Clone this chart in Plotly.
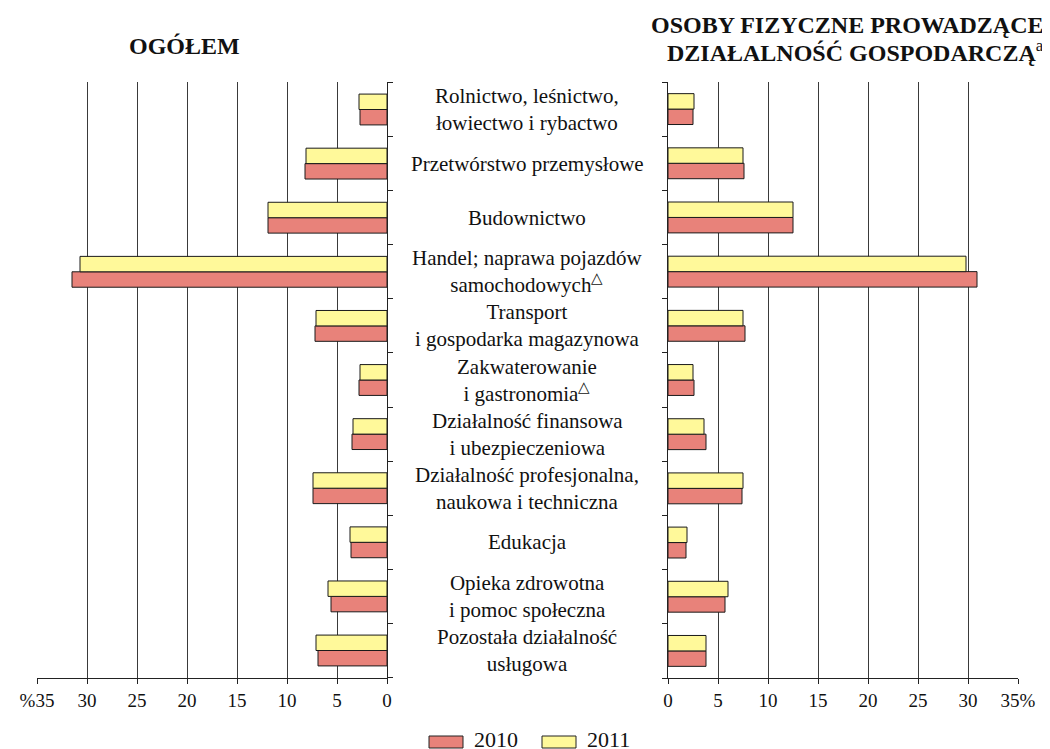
import plotly.graph_objects as go

categories = [
    "Rolnictwo, leśnictwo,<br>łowiectwo i rybactwo",
    "Przetwórstwo przemysłowe",
    "Budownictwo",
    "Handel; naprawa pojazdów<br>samochodowych<sup>△</sup>",
    "Transport<br>i gospodarka magazynowa",
    "Zakwaterowanie<br>i gastronomia<sup>△</sup>",
    "Działalność finansowa<br>i ubezpieczeniowa",
    "Działalność profesjonalna,<br>naukowa i techniczna",
    "Edukacja",
    "Opieka zdrowotna<br>i pomoc społeczna",
    "Pozostała działalność<br>usługowa",
]
keys = [f"c{i}" for i in range(len(categories))]

ogolem_2010 = [2.7, 8.2, 11.9, 31.5, 7.2, 2.8, 3.5, 7.4, 3.6, 5.6, 6.9]
ogolem_2011 = [2.8, 8.1, 11.9, 30.7, 7.1, 2.7, 3.4, 7.4, 3.7, 5.9, 7.1]
osoby_2010 = [2.5, 7.6, 12.5, 30.9, 7.7, 2.6, 3.8, 7.4, 1.8, 5.7, 3.8]
osoby_2011 = [2.6, 7.5, 12.5, 29.8, 7.5, 2.5, 3.6, 7.5, 1.9, 6.0, 3.8]

x_ticks = [0, 5, 10, 15, 20, 25, 30, 35]
left_ticktext = ["0", "5", "10", "15", "20", "25", "30", "%35"]
right_ticktext = ["0", "5", "10", "15", "20", "25", "30", "35%"]

title_left = "<b>OGÓŁEM</b>"
title_right_1 = "<b>OSOBY FIZYCZNE PROWADZĄCE</b>"
title_right_2 = "<b>DZIAŁALNOŚĆ GOSPODARCZĄ</b><sup>a</sup>"

RED = "#E8827A"
YELLOW = "#FFF99A"
FONT = "Liberation Serif"

fig = go.Figure()
line = dict(color="#1a1a1a", width=1)
fig.add_trace(go.Bar(y=keys, x=ogolem_2010, orientation="h", marker=dict(color=RED, line=line),
                     xaxis="x", yaxis="y", name="2010", showlegend=False))
fig.add_trace(go.Bar(y=keys, x=ogolem_2011, orientation="h", marker=dict(color=YELLOW, line=line),
                     xaxis="x", yaxis="y", name="2011", showlegend=False))
fig.add_trace(go.Bar(y=keys, x=osoby_2010, orientation="h", marker=dict(color=RED, line=line),
                     xaxis="x2", yaxis="y2", name="2010", showlegend=False))
fig.add_trace(go.Bar(y=keys, x=osoby_2011, orientation="h", marker=dict(color=YELLOW, line=line),
                     xaxis="x2", yaxis="y2", name="2011", showlegend=False))

W, H = 1050, 749
O = 8  # page body margin offset
T = 82 - O
B = H - (678 - O)
PH = H - T - B


def px(xpix):
    return (xpix - O) / W


def py(ypix):
    return (H - B - (ypix - O)) / PH


dl = [px(37), px(387)]
dr = [px(668), px(1018)]

xcommon = dict(tickvals=x_ticks, showgrid=True, gridcolor="#3a3a3a", gridwidth=1.3,
               zeroline=False, showline=True, linecolor="#222", linewidth=1.3,
               ticks="outside", ticklen=5, tickcolor="#222", automargin=False,
               tickfont=dict(family=FONT, size=19, color="#111"), fixedrange=True)
ycommon = dict(type="category", categoryorder="array", categoryarray=keys[::-1],
               showticklabels=False, showgrid=False, zeroline=False, showline=True,
               linecolor="#222", linewidth=1.3, ticks="outside", ticklen=5, automargin=False,
               tickcolor="#222", tickson="boundaries", domain=[0, 1])

fig.update_layout(
    width=W, height=H,
    margin=dict(l=0, r=0, t=T, b=B, pad=0, autoexpand=False),
    paper_bgcolor="white", plot_bgcolor="white", showlegend=False,
    barmode="group", bargap=0.43, bargroupgap=0,
    xaxis=dict(domain=dl, range=[35, 0], ticktext=left_ticktext, anchor="y", **xcommon),
    xaxis2=dict(domain=dr, range=[0, 35], ticktext=right_ticktext, anchor="y2", **xcommon),
    yaxis=dict(anchor="x", side="right", **ycommon),
    yaxis2=dict(anchor="x2", side="left", **ycommon),
    font=dict(family=FONT, color="#111"),
)

# category labels in the middle
for k, c in zip(keys, categories):
    fig.add_annotation(x=px(527), xref="paper", y=k, yref="y", text=c, showarrow=False,
                       xanchor="center", yanchor="middle", align="center",
                       font=dict(family=FONT, size=21, color="#111"))

# titles
fig.add_annotation(x=px(184), y=py(46), xref="paper", yref="paper", text=title_left,
                   showarrow=False, xanchor="center", yanchor="middle",
                   font=dict(family=FONT, size=24, color="#111"))
fig.add_annotation(x=px(1046), y=py(25), xref="paper", yref="paper", text=title_right_1,
                   showarrow=False, xanchor="right", yanchor="middle",
                   font=dict(family=FONT, size=24, color="#111"))
fig.add_annotation(x=px(1046), y=py(51), xref="paper", yref="paper", text=title_right_2,
                   showarrow=False, xanchor="right", yanchor="middle",
                   font=dict(family=FONT, size=24, color="#111"))

# legend
legend_items = [("2010", RED, 429), ("2011", YELLOW, 542)]
for label, col, x0 in legend_items:
    fig.add_shape(type="rect", xref="paper", yref="paper",
                  x0=px(x0), x1=px(x0 + 34), y0=py(748), y1=py(736),
                  fillcolor=col, line=dict(color="#222", width=1))
    fig.add_annotation(x=px(x0 + 43), y=py(739), xref="paper", yref="paper", text=label,
                       showarrow=False, xanchor="left", yanchor="middle",
                       font=dict(family=FONT, size=22, color="#111"))

fig.write_html("out.html", config={"responsive": False})
